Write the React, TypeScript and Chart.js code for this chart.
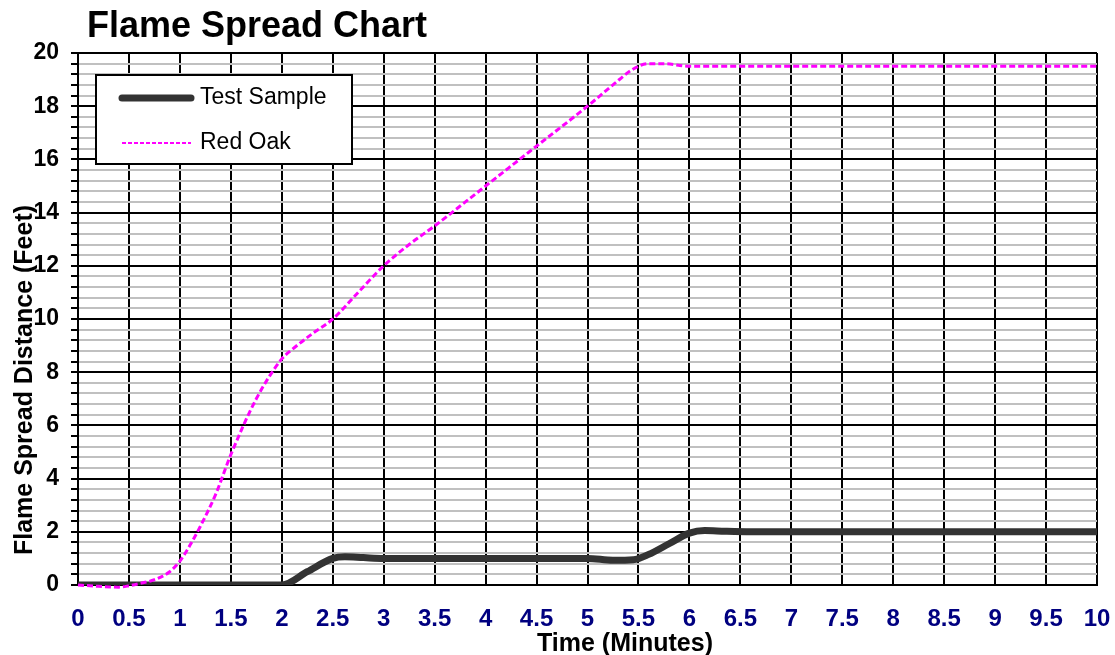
import React, { useEffect, useRef } from "react";
import { Chart, registerables } from "chart.js";

Chart.register(...registerables);

const CHART_TITLE = "Flame Spread Chart";
const X_TITLE = "Time (Minutes)";
const Y_TITLE = "Flame Spread Distance (Feet)";
const SERIES_NAMES = ["Test Sample", "Red Oak"];
const SERIES_COLORS = ["#333333", "#ff00ff"];

const testTime = [0, 0.5, 1, 1.5, 1.8, 2.0, 2.25, 2.5, 2.62, 2.8, 3.0, 3.5, 4.0, 4.5, 5.0, 5.25, 5.45, 5.6, 5.8, 6.0, 6.15, 6.35, 6.6, 7, 7.5, 8, 8.5, 9, 9.5, 10];
const testFeet = [0, 0, 0, 0, 0, 0, 0.5, 1.0, 1.06, 1.03, 1.0, 1.0, 1.0, 1.0, 1.0, 0.93, 0.95, 1.15, 1.55, 1.95, 2.05, 2.02, 2.0, 2.0, 2.0, 2.0, 2.0, 2.0, 2.0, 2.0];

const oakTime = [0, 0.2, 0.4, 0.5, 0.6, 0.75, 0.9, 1.0, 1.1, 1.2, 1.35, 1.5, 1.75, 2.0, 2.1, 2.3, 2.5, 2.75, 3.0, 3.25, 3.5, 4.0, 4.5, 5.0, 5.25, 5.45, 5.6, 5.75, 6.0, 7, 8, 9, 10];
const oakFeet = [0, -0.05, -0.08, -0.03, 0.05, 0.2, 0.5, 0.9, 1.5, 2.2, 3.4, 4.9, 7.0, 8.5, 8.85, 9.45, 10.0, 11.0, 12.0, 12.8, 13.5, 15.0, 16.5, 18.0, 18.8, 19.4, 19.6, 19.6, 19.5, 19.5, 19.5, 19.5, 19.5];

const X_MIN = 0;
const X_MAX = 10;
const X_STEP = 0.5;
const Y_MIN = 0;
const Y_MAX = 20;
const Y_MAJOR = 2;
const Y_MINOR = 0.4;

const FONT = '"Liberation Sans", Arial, sans-serif';

const isMajor = (v: number) => Math.abs(v / Y_MAJOR - Math.round(v / Y_MAJOR)) < 1e-6;

const textPlugin = {
  id: "textPlugin",
  afterDraw(chart: any) {
    const ctx = chart.ctx as CanvasRenderingContext2D;
    ctx.save();
    ctx.fillStyle = "#000";
    ctx.textBaseline = "alphabetic";
    // main title
    ctx.font = `bold 36px ${FONT}`;
    ctx.textAlign = "left";
    ctx.fillText(CHART_TITLE, 87, 37);
    // x title
    ctx.font = `bold 25px ${FONT}`;
    ctx.textAlign = "center";
    ctx.fillText(X_TITLE, 625, 651);
    // y title
    ctx.save();
    ctx.translate(32, 380);
    ctx.rotate(-Math.PI / 2);
    ctx.fillText(Y_TITLE, 0, 0);
    ctx.restore();

    // legend
    const lx = 96, ly = 75, lw = 256, lh = 89;
    ctx.fillStyle = "#fff";
    ctx.fillRect(lx, ly, lw, lh);
    ctx.strokeStyle = "#000";
    ctx.lineWidth = 2;
    ctx.strokeRect(lx, ly, lw, lh);

    const ds = chart.data.datasets;
    // Test sample
    ctx.beginPath();
    ctx.strokeStyle = ds[0].borderColor;
    ctx.lineWidth = 7;
    ctx.lineCap = "round";
    ctx.moveTo(122, 98);
    ctx.lineTo(191, 98);
    ctx.stroke();
    // Red oak
    ctx.beginPath();
    ctx.strokeStyle = ds[1].borderColor;
    ctx.lineWidth = 2;
    ctx.lineCap = "butt";
    ctx.setLineDash([4, 2]);
    ctx.moveTo(122, 143);
    ctx.lineTo(191, 143);
    ctx.stroke();
    ctx.setLineDash([]);

    ctx.fillStyle = "#000";
    ctx.font = `23px ${FONT}`;
    ctx.textAlign = "left";
    ctx.textBaseline = "middle";
    ctx.fillText(ds[0].label, 200, 98);
    ctx.fillText(ds[1].label, 200, 143);
    ctx.restore();
  },
};

export default function App() {
  const ref = useRef<HTMLCanvasElement | null>(null);

  useEffect(() => {
    if (!ref.current) return;
    const testData = testTime.map((t, i) => ({ x: t, y: testFeet[i] }));
    const oakData = oakTime.map((t, i) => ({ x: t, y: oakFeet[i] }));
    const chart = new Chart(ref.current, {
      type: "line",
      data: {
        datasets: [
          {
            label: SERIES_NAMES[0],
            data: testData,
            borderColor: SERIES_COLORS[0],
            backgroundColor: SERIES_COLORS[0],
            borderWidth: 7,
            borderCapStyle: "round",
            borderJoinStyle: "round",
            pointRadius: 0,
            cubicInterpolationMode: "monotone",
            order: 1,
          },
          {
            label: SERIES_NAMES[1],
            data: oakData,
            borderColor: SERIES_COLORS[1],
            backgroundColor: SERIES_COLORS[1],
            borderWidth: 3,
            borderDash: [6, 3],
            pointRadius: 0,
            cubicInterpolationMode: "monotone",
            clip: 4,
            order: 0,
          },
        ],
      },
      options: {
        animation: false,
        responsive: false,
        devicePixelRatio: 1,
        layout: { padding: { left: 8, right: 18, top: 53, bottom: 0 } },
        plugins: {
          legend: { display: false },
          title: { display: false },
          tooltip: { enabled: false },
        },
        scales: {
          x: {
            type: "linear",
            min: X_MIN,
            max: X_MAX,
            afterFit: (s: any) => {
              s.height = 70;
              s.paddingRight = 14;
              s.paddingLeft = 8;
            },
            ticks: {
              stepSize: X_STEP,
              autoSkip: false,
              maxRotation: 0,
              color: "#000080",
              padding: 20,
              font: { family: FONT, size: 24, weight: "bold" },
              callback: (v: any) => String(v),
            },
            grid: { color: "#000", lineWidth: 2, drawTicks: false },
            border: { color: "#000", width: 2 },
          },
          y: {
            type: "linear",
            min: Y_MIN,
            max: Y_MAX,
            afterFit: (s: any) => {
              s.width = 70;
            },
            ticks: {
              stepSize: Y_MINOR,
              autoSkip: false,
              color: "#000",
              padding: 12,
              font: { family: FONT, size: 23, weight: "bold" },
              callback: (v: any) => (isMajor(Number(v)) ? String(Math.round(Number(v))) : ""),
            },
            grid: {
              color: (c: any) => (c.tick && isMajor(c.tick.value) ? "#000" : "#c0c0c0"),
              lineWidth: 2,
              tickLength: 7,
              tickColor: "#000",
            },
            border: { color: "#000", width: 2 },
          },
        },
      } as any,
      plugins: [textPlugin],
    });
    return () => chart.destroy();
  }, []);

  return (
    <div style={{ position: "absolute", left: 0, top: 0, width: 1115, height: 655, background: "#fff" }}>
      <canvas ref={ref} width={1115} height={655} style={{ width: 1115, height: 655, display: "block" }} />
    </div>
  );
}
